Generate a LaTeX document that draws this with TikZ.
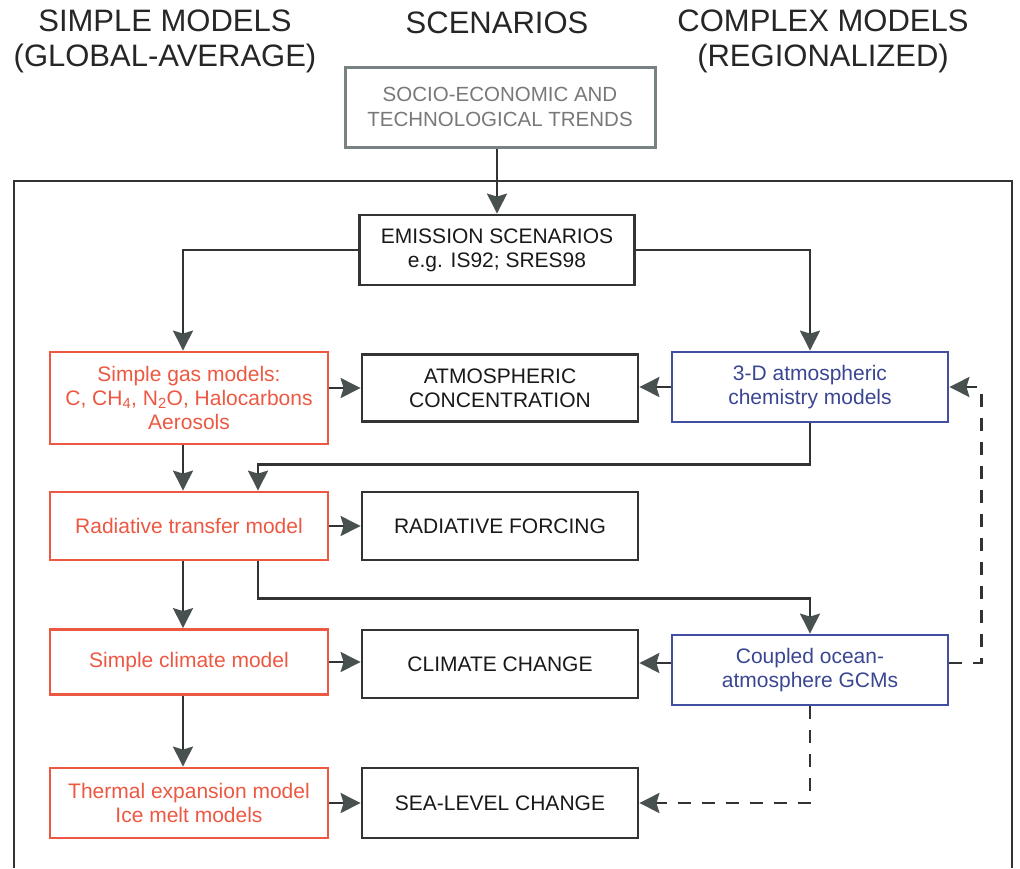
\documentclass[tikz,border=0pt]{standalone}
\usepackage{fontspec}
\setmainfont{Liberation Sans}
\usetikzlibrary{arrows.meta,positioning}
\definecolor{lineC}{RGB}{50,52,52}
\definecolor{tipC}{RGB}{72,80,80}
\definecolor{redC}{RGB}{236,88,66}
\definecolor{blueC}{RGB}{66,78,160}
\definecolor{blueT}{RGB}{58,70,145}
\definecolor{grayC}{RGB}{120,130,130}
\definecolor{grayT}{RGB}{120,120,120}
\tikzset{
  boxbase/.style={rectangle, line width=2.8pt, align=center, inner sep=2pt,
    font=\fontsize{21}{24}\selectfont},
  blackbox/.style={boxbase, draw=lineC, text=black!90},
  redbox/.style={boxbase, draw=redC, text=redC},
  bluebox/.style={boxbase, draw=blueC, text=blueT},
  graybox/.style={boxbase, draw=grayC, text=grayT, line width=3pt,
    font=\fontsize{20.5}{25}\selectfont},
  head/.style={align=center, font=\fontsize{31}{35}\selectfont, text=black!85},
  arr/.style={draw=lineC, line width=2.4pt,
    -{Stealth[length=20pt,width=20pt,inset=3pt,fill=tipC,color=tipC]}},
  darr/.style={arr, line width=2.6pt, dash pattern=on 13pt off 11pt},
}
\begin{document}
\begin{tikzpicture}[x=1pt,y=-1pt]
\useasboundingbox (0,0) rectangle (1020,868);
% headers
\node[head] (hsimple) at (165,41) {SIMPLE MODELS\\(GLOBAL-AVERAGE)};
\node[head] (hscen) at (497,23) {SCENARIOS};
\node[head] (hcomplex) at (823,41) {COMPLEX MODELS\\(REGIONALIZED)};
% frame
\draw[lineC, line width=2.4pt] (14,868) -- (14,181) -- (1012,181) -- (1012,868);
% boxes
\node[graybox, minimum width=310pt, minimum height=80pt] (socio) at (500,107)
  {SOCIO-ECONOMIC AND\\TECHNOLOGICAL TRENDS};
\node[blackbox, minimum width=275pt, minimum height=70pt] (emis) at (497,250)
  {EMISSION SCENARIOS\\e.g. IS92; SRES98};
\node[redbox, minimum width=278pt, minimum height=92pt] (gas) at (189,398)
  {Simple gas models:\\C, CH\textsubscript{4}, N\textsubscript{2}O, Halocarbons\\Aerosols};
\node[blackbox, minimum width=276pt, minimum height=67pt] (atm) at (500,388)
  {ATMOSPHERIC\\CONCENTRATION};
\node[bluebox, minimum width=276pt, minimum height=70pt] (chem) at (810,387)
  {3-D atmospheric\\chemistry models};
\node[redbox, minimum width=278pt, minimum height=68pt] (rad) at (189,526)
  {Radiative transfer model};
\node[blackbox, minimum width=276pt, minimum height=68pt] (rf) at (500,526)
  {RADIATIVE FORCING};
\node[redbox, minimum width=278pt, minimum height=65pt] (clim) at (189,662)
  {Simple climate model};
\node[blackbox, minimum width=276pt, minimum height=68pt] (cc) at (500,664)
  {CLIMATE CHANGE};
\node[bluebox, minimum width=276pt, minimum height=70pt] (ocean) at (810,670)
  {Coupled ocean-\\atmosphere GCMs};
\node[redbox, minimum width=278pt, minimum height=70pt] (therm) at (189,803)
  {Thermal expansion model\\Ice melt models};
\node[blackbox, minimum width=276pt, minimum height=70pt] (sea) at (500,803)
  {SEA-LEVEL CHANGE};
% connectors
\draw[arr] (socio.south -| emis.north) -- (emis.north);
\draw[arr] (emis.west) -| ([xshift=-6pt]gas.north);
\draw[arr] (emis.east) -| (chem.north);
\draw[arr] ([yshift=10pt]gas.east) -- ([yshift=10pt]gas.east -| atm.west);
\draw[arr] (chem.west) -- (chem.west -| atm.east);
\draw[arr] ([xshift=-6pt]gas.south) -- ([xshift=-6pt]rad.north);
\draw[arr] (chem.south) -- ++(0,41) -| ([xshift=69pt]rad.north);
\draw[arr] (rad.east) -- (rf.west);
\draw[arr] ([xshift=69pt]rad.south) -- ++(0,37) -| (ocean.north);
\draw[arr] ([xshift=-6pt]rad.south) -- ([xshift=-6pt]clim.north);
\draw[arr] (clim.east) -- (clim.east -| cc.west);
\draw[arr] ([yshift=7pt]ocean.west) -- ([yshift=7pt]ocean.west -| cc.east);
\draw[darr] ([yshift=7pt]ocean.east) -- ++(32,0) |- (chem.east);
\draw[arr] ([xshift=-6pt]clim.south) -- ([xshift=-6pt]therm.north);
\draw[arr] (therm.east) -- (sea.west);
\draw[darr] (ocean.south) |- (sea.east);
\end{tikzpicture}
\end{document}
